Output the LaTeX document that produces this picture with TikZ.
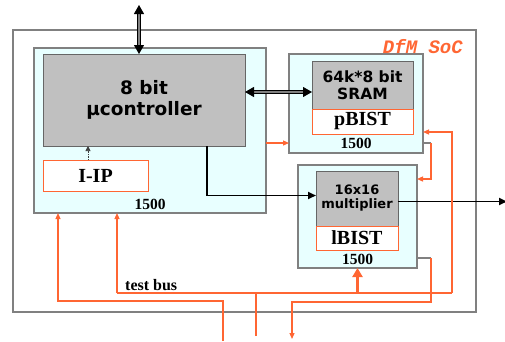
\documentclass[tikz,border=0pt]{standalone}
\usepackage{fontspec}
\usepackage{tikz}
\usetikzlibrary{arrows.meta,positioning,calc}
\newfontfamily\corefont{DejaVu Sans}
\newfontfamily\bistfont{Liberation Serif}
\newfontfamily\socfont{Liberation Mono}
\definecolor{SoCGray}{RGB}{128,128,128}
\definecolor{SoCCore}{RGB}{192,192,192}
\definecolor{SoCWrap}{RGB}{232,255,255}
\definecolor{SoCOrange}{RGB}{255,102,51}

\begin{document}
\begin{tikzpicture}[
  x=1pt,y=-1pt,
  node distance=0pt,
  wrap/.style={draw=SoCGray,fill=SoCWrap,line width=1.2pt,anchor=north west,inner sep=0pt,outer sep=0pt},
  core/.style={draw=SoCGray!80!black,fill=SoCCore,line width=1pt,inner sep=0pt,outer sep=0pt,align=center,
               font=\corefont\bfseries},
  bist/.style={draw=SoCOrange,fill=white,line width=0.9pt,inner sep=0pt,outer sep=0pt,
               font=\bistfont\bfseries\fontsize{20}{22}\selectfont},
  num/.style={inner sep=0pt,font=\bistfont\bfseries\fontsize{15.5}{17}\selectfont},
  tb/.style={draw=SoCOrange,line width=1.2pt,-{Triangle[length=6pt,width=5pt]}},
  tbline/.style={draw=SoCOrange,line width=1.2pt},
  tdo/.style={draw=SoCGray,line width=1.2pt},
  blk/.style={draw=black,line width=1.8pt,-{Triangle[length=8pt,width=7pt]}},
  dbl/.style={draw=black,double=SoCGray,double distance=1.4pt,line width=0.9pt,
              {Triangle[length=9pt,width=10pt]}-{Triangle[length=9pt,width=10pt]}}
]
\useasboundingbox (0,0) rectangle (505,341);
\node[wrap,fill=white,minimum width=463pt,minimum height=282pt] (soc) at (13,30) {};
\node[inner sep=0pt,text=SoCOrange,font=\socfont\bfseries\itshape\fontsize{19}{20}\selectfont,
      below left=9pt and 13pt of soc.north east] (socname) {DfM SoC};

\node[wrap,minimum width=232pt,minimum height=165pt] (uwrap) at (34,48) {};
\node[core,anchor=north west,minimum width=202pt,minimum height=92pt,
      font=\corefont\bfseries\fontsize{18.5}{21}\selectfont] (ucore) at (43,54) {8 bit\\µcontroller};
\node[bist,anchor=north west,minimum width=105pt,minimum height=31pt] (iip) at (43,160) {I-IP};
\node[num,above=3pt of uwrap.south] (unum) {1500};

\node[wrap,minimum width=134pt,minimum height=99pt] (swrap) at (289,54) {};
\node[core,anchor=north west,minimum width=101pt,minimum height=48pt,
      font=\corefont\bfseries\fontsize{15.5}{17}\selectfont] (sram) at (312,61) {64k*8 bit\\SRAM};
\node[bist,below=of sram,minimum width=101pt,minimum height=25pt] (pbist) {pBIST};
\node[num,above=4pt of swrap.south] (snum) {1500};

\node[wrap,minimum width=119pt,minimum height=103pt] (mwrap) at (298,165) {};
\node[core,anchor=north west,minimum width=82pt,minimum height=55pt,
      font=\corefont\bfseries\fontsize{13}{14}\selectfont] (mult) at (316,171) {16x16\\multiplier};
\node[bist,below=of mult,minimum width=82pt,minimum height=24pt] (lbist) {lBIST};
\node[num,above=3pt of mwrap.south] (mnum) {1500};

\coordinate (top) at (139,5);
\coordinate (bus) at (245,92);
\coordinate (ipup) at (88,160);
\coordinate (out) at (507,201.5);
\coordinate (tbL) at (117,293);
\coordinate (tbR) at (452,293);
\coordinate (tbIn) at (256,336);
\coordinate (tiL) at (58,301);
\coordinate (tiIn) at (223,341);
\coordinate (toR) at (431,302);
\coordinate (toOut) at (292,339);
\node[inner sep=0pt,anchor=base west,font=\bistfont\bfseries\fontsize{16}{18}\selectfont] (tbname) at (125,290) {test bus};

\draw[dbl] (top) -- (top |- ucore.north);
\draw[dbl] (ucore.east |- bus) -- (sram.west |- bus);
\draw[draw=SoCGray!50!black,line width=0.7pt,dash pattern=on 1.5pt off 1pt,-{Triangle[length=5pt,width=5pt]}]
  (ipup) -- (ipup |- ucore.south);
\draw[blk] ($(ucore.south east)+(-38,0)$) |- ($(mult.west)+(0,-3)$);
\draw[blk] (mult.east |- out) -- (out);

\draw[tb] ($(uwrap.south east)+(0,-70)$) -- ($(swrap.south west)+(0,-10)$);
\draw[tdo] ($(swrap.south east)+(0,-10)$) -- ++(8,0) coordinate (sOut);
\draw[tb] (sOut) |- ($(mwrap.north east)+(0,14)$);
\draw[tbline] (tbL) -- (tbR);
\draw[tb] (tbR) |- ($(swrap.south east)+(0,-21)$);
\draw[tb] (tbL) -- (tbL |- uwrap.south);
\draw[draw=SoCOrange,line width=3pt,-{Triangle[length=9pt,width=10pt]}] (tbL -| mwrap.south) -- (mwrap.south);
\draw[tbline] (tbIn) -- (tbIn |- tbL);
\draw[tb] (tiIn) |- (tiL) -- (tiL |- uwrap.south);
\draw[tdo] ($(mwrap.south east)+(0,-10)$) -- ++(14,0) coordinate (mOut);
\draw[tb] (mOut) -- (toR) -| (toOut);
\end{tikzpicture}
\end{document}
